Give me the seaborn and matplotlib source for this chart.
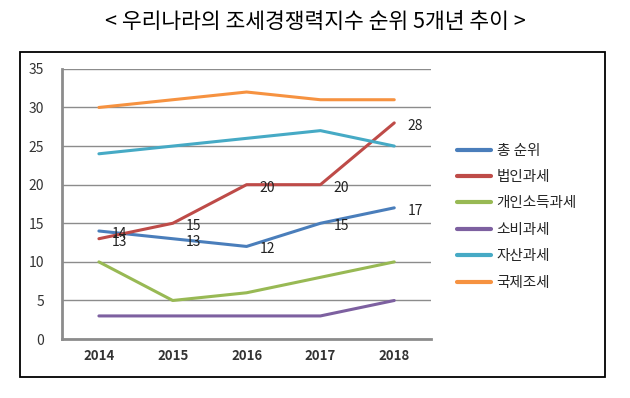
import matplotlib
matplotlib.use("Agg")
import matplotlib.pyplot as plt
import matplotlib.patches as mpatches
import pandas as pd
import seaborn as sns

years = [2014, 2015, 2016, 2017, 2018]
series_names = ["총 순위", "법인과세", "개인소득과세", "소비과세", "자산과세", "국제조세"]
total_rank = [14, 13, 12, 15, 17]
corporate_tax = [13, 15, 20, 20, 28]
personal_income_tax = [10, 5, 6, 8, 10]
consumption_tax = [3, 3, 3, 3, 5]
property_tax = [24, 25, 26, 27, 25]
international_tax = [30, 31, 32, 31, 31]
colors = ["#4A7EBB", "#BE4B48", "#98B954", "#7D60A0", "#46AAC5", "#F69240"]
labelled = ["총 순위", "법인과세"]

values = [total_rank, corporate_tax, personal_income_tax,
          consumption_tax, property_tax, international_tax]
df = pd.DataFrame(
    [(y, name, v) for name, vals in zip(series_names, values) for y, v in zip(years, vals)],
    columns=["year", "series", "rank"],
)

sns.set_style("white")
plt.rcParams["font.family"] = ["Noto Sans CJK KR", "DejaVu Sans"]

fig = plt.figure(figsize=(6.3, 3.98), dpi=100)
ax = fig.add_axes([0.0984, 0.148, 0.586, 0.679])

sns.lineplot(data=df, x="year", y="rank", hue="series", hue_order=series_names,
             palette=colors, linewidth=2.2, ax=ax, legend=True)

# data labels for the first two series
for name in labelled:
    sub = df[df["series"] == name]
    for _, row in sub.iterrows():
        ax.annotate(str(row["rank"]), (row["year"], row["rank"]),
                    xytext=(21, -3), textcoords="offset pixels",
                    ha="center", va="center", fontsize=10, color="#222222")

grid_c = "#8C8C8C"
ax.set_xlim(2013.5, 2018.5)
ax.set_ylim(0, 35)
ax.set_yticks(range(0, 36, 5))
ax.yaxis.grid(True, color=grid_c, linewidth=1)
ax.set_axisbelow(True)
ax.set_xticks([y - 0.5 for y in years] + [2018.5])
ax.set_xticklabels([])
ax.set_xticks(years, minor=True)
ax.set_xticklabels([str(y) for y in years], minor=True, fontsize=9.5, fontweight="bold",
                   color="#333333")
ax.tick_params(axis="x", which="major", length=5, width=1, color=grid_c, direction="out")
ax.tick_params(axis="x", which="minor", length=0, pad=7)
ax.tick_params(axis="y", length=5, width=1, color=grid_c, direction="out",
               labelsize=10, labelcolor="#333333", pad=8)
ax.set_xlabel("")
ax.set_ylabel("")
for side in ["top", "right"]:
    ax.spines[side].set_visible(False)
for side in ["left", "bottom"]:
    ax.spines[side].set_color(grid_c)
    ax.spines[side].set_linewidth(2)

handles, labels = ax.get_legend_handles_labels()
for h in handles:
    h.set_linewidth(3)
ax.legend(handles, labels, loc="upper left", bbox_to_anchor=(0.705, 0.672),
          bbox_transform=fig.transFigure, frameon=False, fontsize=10.5,
          handlelength=2.3, handletextpad=0.4, labelspacing=0.85)

fig.patches.append(mpatches.Rectangle((20 / 630, 1 - 377 / 398), 585 / 630, 325 / 398,
                                      transform=fig.transFigure, fill=False,
                                      edgecolor="black", linewidth=1.3))

fig.text(0.5, 1 - 22 / 398, "< 우리나라의 조세경쟁력지수 순위 5개년 추이 >",
         ha="center", va="center", fontsize=15.5, color="black")

fig.savefig("out.png", dpi=100)
